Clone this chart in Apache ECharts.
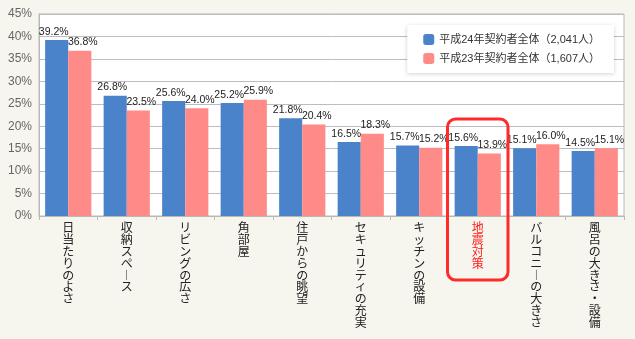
<!DOCTYPE html>
<html>
<head>
<meta charset="utf-8">
<script src="https://cdn.jsdelivr.net/npm/echarts@6/dist/echarts.min.js"></script>
<style>
html, body { margin: 0; padding: 0; background: #f6f5ee; }
#container { width: 635px; height: 339px; }
</style>
</head>
<body>
<div id="container"></div>
<script>
var categories = ['日当たりのよさ', '収納スペース', 'リビングの広さ', '角部屋', '住戸からの眺望',
    'セキュリティの充実', 'キッチンの設備', '地震対策', 'バルコニーの大きさ', '風呂の大きさ・設備'];
var seriesNames = ['平成24年契約者全体（2,041人）', '平成23年契約者全体（1,607人）'];
var values2012 = [39.2, 26.8, 25.6, 25.2, 21.8, 16.5, 15.7, 15.6, 15.1, 14.5];
var values2011 = [36.8, 23.5, 24.0, 25.9, 20.4, 18.3, 15.2, 13.9, 16.0, 15.1];
var highlightIndex = 7; // 地震対策
var yTicks = [0, 45, 5]; // min, max, interval

var dom = document.getElementById('container');
var myChart = echarts.init(dom);
var font = '"Liberation Sans", "Noto Sans CJK JP", sans-serif';

// stack the characters so the label reads top to bottom
function verticalText(s) {
    return s.split('').map(function (ch) {
        return ch === 'ー' ? '︱' : ch;
    }).join('\n');
}

function pct(p) { return p.value.toFixed(1) + '%'; }

var option = {
    backgroundColor: '#f6f5ee',
    textStyle: { fontFamily: font },
    animation: false,
    grid: {
        left: 39, right: 11, top: 14, bottom: 123,
        show: true,
        backgroundColor: '#ffffff',
        borderColor: '#b8b8b8',
        borderWidth: 1
    },
    legend: {
        orient: 'vertical',
        right: 21,
        top: 25,
        itemWidth: 11,
        itemHeight: 11,
        itemGap: 8,
        padding: [9, 14, 9, 16],
        backgroundColor: '#ffffff',
        shadowColor: 'rgba(0,0,0,0.18)',
        shadowBlur: 4,
        shadowOffsetY: 1,
        textStyle: { fontSize: 11, color: '#333', fontFamily: font },
        data: seriesNames
    },
    xAxis: {
        type: 'category',
        data: categories,
        axisLine: { lineStyle: { color: '#b8b8b8' } },
        axisTick: { show: true, length: 4, lineStyle: { color: '#b8b8b8' } },
        axisLabel: {
            interval: 0,
            margin: 6,
            fontSize: 12,
            lineHeight: 11.8,
            verticalAlign: 'top',
            color: function (v, i) { return i === highlightIndex ? '#ff1a1a' : '#222'; },
            fontFamily: '"Noto Sans CJK JP", sans-serif',
            formatter: function (v) { return verticalText(v); }
        }
    },
    yAxis: {
        type: 'value',
        min: yTicks[0],
        max: yTicks[1],
        interval: yTicks[2],
        axisLine: { show: true, lineStyle: { color: '#b8b8b8' } },
        axisTick: { show: false },
        splitLine: { lineStyle: { color: '#bdbdbd' } },
        axisLabel: { formatter: '{value}%', color: '#666', fontSize: 12, margin: 7 }
    },
    series: [{
        name: seriesNames[0],
        type: 'bar',
        data: values2012,
        barGap: '0%',
        barCategoryGap: '21%',
        itemStyle: { color: '#4a83c9' },
        label: {
            show: true, position: 'top', distance: 3, offset: [-3, 0],
            fontSize: 10.5, color: '#222', formatter: pct
        }
    }, {
        name: seriesNames[1],
        type: 'bar',
        data: values2011,
        itemStyle: { color: '#ff8b88' },
        label: {
            show: true, position: 'top', distance: 3, offset: [3, 0],
            fontSize: 10.5, color: '#222', formatter: pct
        }
    }]
};
myChart.setOption(option, true);

// red rounded frame around the highlighted category
var leftPt = myChart.convertToPixel({ gridIndex: 0 }, [highlightIndex, 21.6]);
var step = myChart.convertToPixel({ gridIndex: 0 }, [highlightIndex + 1, 0])[0] - leftPt[0];
var baseY = myChart.convertToPixel({ gridIndex: 0 }, [highlightIndex, 0])[1];
myChart.setOption({
    graphic: [{
        type: 'rect',
        z: 100,
        shape: {
            x: leftPt[0] - step / 2 - 1,
            y: leftPt[1],
            width: step + 2,
            height: baseY + 64 - leftPt[1],
            r: 8
        },
        style: { fill: 'none', stroke: '#ff2a2a', lineWidth: 3 }
    }]
});
</script>
</body>
</html>
